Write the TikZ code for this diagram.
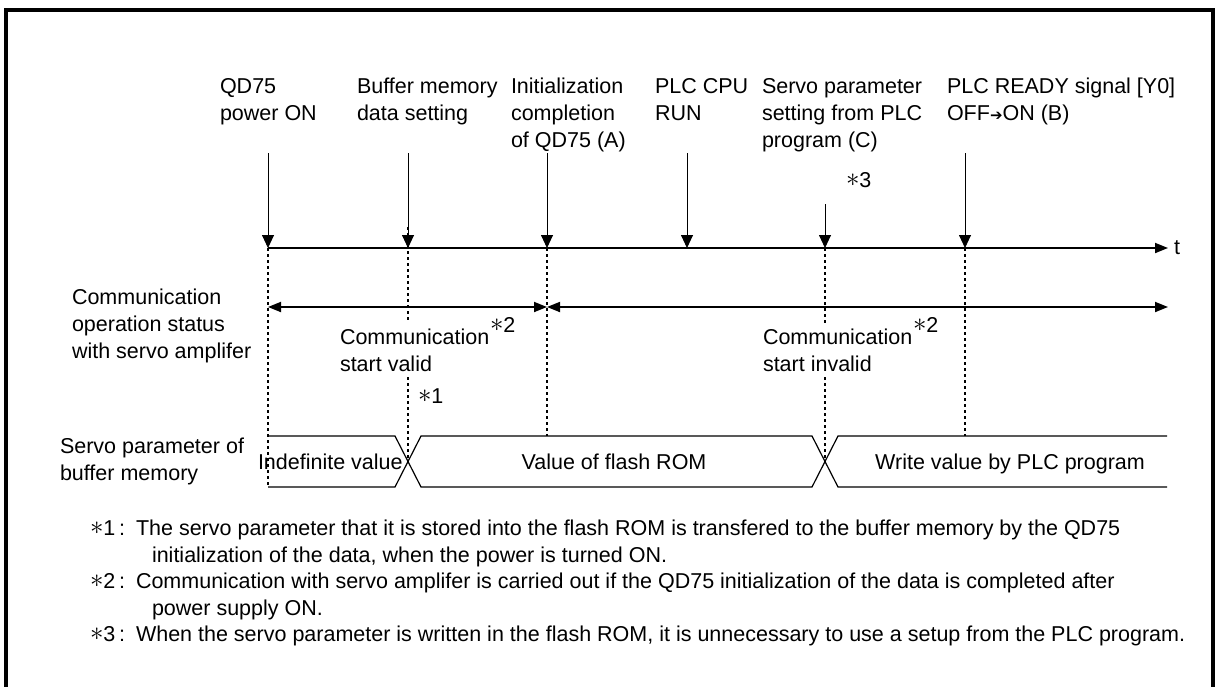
\documentclass[tikz,border=0pt]{standalone}
\usepackage{fontspec}
\usepackage{graphicx}
\setmainfont{Liberation Sans}
\newfontfamily\dejavu{DejaVu Sans}
\usetikzlibrary{arrows.meta}
\newcommand\lstrut{\rule{0pt}{18pt}}
\newcommand\astk{\raisebox{1pt}{\scalebox{1.3}{$\ast$}}}
\begin{document}
\begin{tikzpicture}[x=1pt,y=-1pt,
  txt/.style={font=\fontsize{21.5}{27}\selectfont, inner sep=0pt, outer sep=0pt},
  ml/.style={txt, align=left, anchor=north west},
  evarrow/.style={line width=0.9pt, -{Triangle[length=13pt,width=12pt]}},
  axisline/.style={line width=1.8pt, -{Triangle[length=13pt,width=10pt]}},
  dbl/.style={line width=1.8pt, {Triangle[length=13pt,width=10pt]}-{Triangle[length=13pt,width=10pt]}},
  dotline/.style={line width=1.8pt, dash pattern=on 3pt off 3pt},
  bus/.style={line width=1.2pt},
  frameline/.style={line width=4pt}]
\useasboundingbox (0,0) rectangle (1215,686);
\draw[frameline] (6,690) -- (6,10) -- (1213,10) -- (1213,690);

% event labels
\node[ml] (l1) at (220,75.5) {\lstrut QD75\\power ON};
\node[ml] (l2) at (357,75.5) {\lstrut Buffer memory\\data setting};
\node[ml] (l3) at (511,75.5) {\lstrut Initialization\\completion\\of QD75 (A)};
\node[ml] (l4) at (655,75.5) {\lstrut PLC CPU\\RUN};
\node[ml] (l5) at (762,75.5) {\lstrut Servo parameter\\setting from PLC\\program (C)};
\node[ml] (l6) at (947,75.5) {\lstrut PLC READY signal [Y0]\\OFF{\dejavu\fontsize{15}{15}\selectfont ➔}ON (B)};
\node[txt, anchor=west] (n3) at (846,180) {\astk3};

% event arrows
\coordinate (t1) at (268,153); \coordinate (a1) at (268,248);
\coordinate (t2) at (408,153); \coordinate (a2) at (408,248);
\coordinate (t3) at (547,153); \coordinate (a3) at (547,248);
\coordinate (t4) at (687,153); \coordinate (a4) at (687,248);
\coordinate (t5) at (825,204); \coordinate (a5) at (825,248);
\coordinate (t6) at (965,153); \coordinate (a6) at (965,248);
\coordinate (ax1) at (1168,248);
\draw[evarrow] (t1) -- (a1);
\draw[evarrow] (t2) -- (a2);
\draw[evarrow] (t3) -- (a3);
\draw[evarrow] (t4) -- (a4);
\draw[evarrow] (t5) -- (a5);
\draw[evarrow] (t6) -- (a6);
\draw[axisline] (a1) -- (ax1);
\node[txt, anchor=west] (tl) at (1174,248) {t};

% communication status
\coordinate (c0) at (268,307); \coordinate (c1) at (547,307); \coordinate (c2) at (1168,307);
\draw[dbl] (c0) -- (c1);
\draw[dbl] (c1) -- (c2);
\node[ml] (cs) at (72,286.5) {\lstrut Communication\\operation status\\with servo amplifer};
\node[ml] (cv) at (340,326.5) {\lstrut Communication\\start valid};
\node[txt, anchor=west] (cv2) at (490,325) {\astk2};
\node[txt, anchor=west] (n1) at (418,396) {\astk1};
\node[ml] (ci) at (763,326.5) {\lstrut Communication\\start invalid};
\node[txt, anchor=west] (ci2) at (913,325) {\astk2};

% bus
\coordinate (b1) at (268,487);
\coordinate (x1) at (408,461.5);
\coordinate (x2) at (825,461.5);
\coordinate (b3) at (547,436);
\coordinate (b6) at (965,436);
\draw[bus] (268,436) -- (395,436) -- (421,487) -- (812,487) -- (838,436) -- (1167,436);
\draw[bus] (268,487) -- (395,487) -- (421,436) -- (812,436) -- (838,487) -- (1167,487);
\node[txt, anchor=base west] (bv1) at (258,469) {Indefinite value};
\node[txt, anchor=base] (bv2) at (614,469) {Value of flash ROM};
\node[txt, anchor=base] (bv3) at (1010,469) {Write value by PLC program};
\node[ml] (sv) at (60,435.5) {\lstrut Servo parameter of\\buffer memory};

% dotted guide lines
\draw[dotline] (a1) -- (b1);
\draw[dotline] (408,227) -- (408,322);
\draw[dotline] (408,377) -- (x1);
\draw[dotline] (a3) -- (b3);
\draw[dotline] (a5) -- (825,323);
\draw[dotline] (825,377) -- (x2);
\draw[dotline] (a6) -- (b6);

% footnotes
\node[txt, anchor=base west] (f1m) at (90,535.5) {\astk1\,:};
\node[ml] (f1) at (136,517.5) {\lstrut The servo parameter that it is stored into the flash ROM is transfered to the buffer memory by the QD75\\\hspace*{16pt}initialization of the data, when the power is turned ON.};
\node[txt, anchor=base west] (f2m) at (90,588.5) {\astk2\,:};
\node[ml] (f2) at (136,570.5) {\lstrut Communication with servo amplifer is carried out if the QD75 initialization of the data is completed after\\\hspace*{16pt}power supply ON.};
\node[txt, anchor=base west] (f3m) at (90,641.5) {\astk3\,:};
\node[ml] (f3) at (136,623.5) {\lstrut When the servo parameter is written in the flash ROM, it is unnecessary to use a setup from the PLC program.};
\end{tikzpicture}
\end{document}
